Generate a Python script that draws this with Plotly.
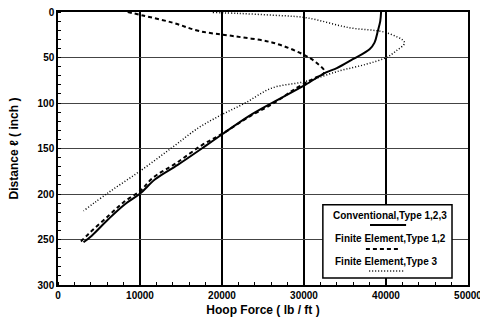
import plotly.graph_objects as go

# Conventional, Type 1,2,3 (solid)
conv_force = [39400, 39300, 39000, 38600, 38000, 35950, 34000, 32700, 30150, 26070,
              23230, 19980, 17950, 14600, 11850, 10020, 8200, 6160, 4120, 3110]
conv_dist = [0, 10, 21, 33.7, 41, 51.9, 61.7, 66.4, 80, 100,
             114.6, 134.6, 147.4, 168, 183.8, 199.5, 211, 227.5, 245.8, 253]

# Finite Element, Type 1,2 (dashed)
fe12_force = [8500, 10340, 14000, 17260, 21320, 26200, 29850, 31490, 32500, 32400,
              31000, 29000, 26350, 23400, 20000, 17600, 14490, 11600, 10020, 8000,
              6160, 3720, 2600]
fe12_dist = [0, 3.8, 11.8, 21, 26.4, 33.7, 46.4, 55.5, 64.7, 67.5,
             74, 84, 100, 114.6, 134, 146, 165.6, 182, 196.6, 209,
             223.9, 243.9, 254]

# Finite Element, Type 3 (dotted)
fe3_force = [18880, 22130, 26200, 30270, 35550, 40020, 42260, 41240, 40020, 37590,
             34330, 30150, 26070, 22830, 19980, 17130, 13880, 10020, 6160, 3110]
fe3_dist = [0.5, 1.6, 3.5, 6.3, 17.3, 22.7, 33.7, 42.8, 50, 57.4,
            64.7, 76.4, 83.6, 100, 112.8, 127.3, 149.2, 174.7, 198.4, 218.5]

x_ticks = [0, 10000, 20000, 30000, 40000, 50000]
y_ticks = [0, 50, 100, 150, 200, 250, 300]
legend_labels = ["Conventional,Type 1,2,3", "Finite Element,Type 1,2", "Finite Element,Type 3"]

FONT = "Liberation Sans, Arial, sans-serif"

fig = go.Figure()
fig.add_trace(go.Scatter(x=conv_force, y=conv_dist, mode="lines",
                         line=dict(color="black", width=2), line_shape="spline"))
fig.add_trace(go.Scatter(x=fe12_force, y=fe12_dist, mode="lines",
                         line=dict(color="black", width=2, dash="4px,3px"), line_shape="spline"))
fig.add_trace(go.Scatter(x=fe3_force, y=fe3_dist, mode="lines",
                         line=dict(color="black", width=1.5, dash="1px,2px"), line_shape="spline"))

axis_common = dict(
    showline=True, linecolor="black", linewidth=1.5, mirror=True,
    showgrid=True, zeroline=False, ticks="", automargin=False,
    ticklabeloverflow="allow",
    tickfont=dict(family=FONT, size=10, color="black", weight="bold"),
)
fig.update_xaxes(range=[0, 50000], tickvals=x_ticks, ticktext=[str(v) for v in x_ticks],
                 gridcolor="black", gridwidth=1.5,
                 minor=dict(dtick=2000, ticks="inside", ticklen=3, tickcolor="black", showgrid=False),
                 title=dict(text="Hoop Force ( lb / ft )", standoff=6,
                            font=dict(family=FONT, size=12, color="black", weight="bold")),
                 **axis_common)
fig.update_yaxes(range=[300, 0], tickvals=y_ticks, ticktext=[str(v) for v in y_ticks],
                 gridcolor="#444", gridwidth=1,
                 minor=dict(dtick=10, ticks="inside", ticklen=3, tickcolor="black", showgrid=False),
                 title=dict(text="Distance ℓ ( inch )", standoff=16,
                            font=dict(family=FONT, size=12, color="black", weight="bold")),
                 **axis_common)

# legend box drawn manually
fig.add_shape(type="rect", xref="paper", yref="paper", x0=0.646, x1=0.961, y0=0.026, y1=0.294,
              line=dict(color="black", width=1.5), fillcolor="white")
text_y = [0.254, 0.172, 0.0855]
text_x = [0.81, 0.81, 0.80]
for lbl, tx, ty in zip(legend_labels, text_x, text_y):
    fig.add_annotation(xref="paper", yref="paper", x=tx, y=ty, text=lbl, showarrow=False,
                       font=dict(family=FONT, size=10, color="black", weight="bold"),
                       xanchor="center", yanchor="middle")
fig.add_shape(type="line", xref="paper", yref="paper", x0=0.761, x1=0.849, y0=0.220, y1=0.220,
              line=dict(color="black", width=2))
fig.add_shape(type="line", xref="paper", yref="paper", x0=0.751, x1=0.832, y0=0.132, y1=0.132,
              line=dict(color="black", width=2, dash="4px,3px"))
fig.add_shape(type="line", xref="paper", yref="paper", x0=0.759, x1=0.844, y0=0.051, y1=0.051,
              line=dict(color="black", width=1.5, dash="1px,2px"))

fig.update_layout(
    width=480, height=323,
    margin=dict(l=58, r=12, t=12, b=38),
    paper_bgcolor="white", plot_bgcolor="white",
    showlegend=False,
    font=dict(family=FONT, color="black"),
)
fig.write_html("out.html")
